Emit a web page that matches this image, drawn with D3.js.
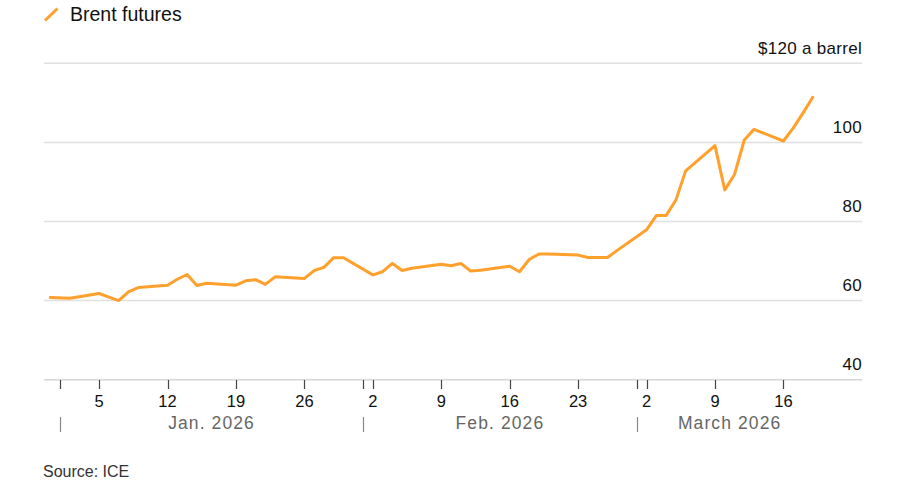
<!DOCTYPE html>
<html><head><meta charset="utf-8">
<script src="https://cdn.jsdelivr.net/npm/d3@7"></script>
<style>
html,body{margin:0;padding:0;background:#fff;}
svg{display:block;font-family:"Liberation Sans",Arial,sans-serif;}
</style></head>
<body>
<svg id="chart" width="900" height="500"></svg>
<script>
const dates = ["2025-12-31","2026-01-02","2026-01-05","2026-01-06","2026-01-07","2026-01-08","2026-01-09",
"2026-01-12","2026-01-13","2026-01-14","2026-01-15","2026-01-16","2026-01-19","2026-01-20","2026-01-21","2026-01-22","2026-01-23",
"2026-01-26","2026-01-27","2026-01-28","2026-01-29","2026-01-30",
"2026-02-02","2026-02-03","2026-02-04","2026-02-05","2026-02-06","2026-02-09","2026-02-10","2026-02-11","2026-02-12","2026-02-13",
"2026-02-16","2026-02-17","2026-02-18","2026-02-19","2026-02-20","2026-02-23","2026-02-24","2026-02-25","2026-02-26","2026-02-27",
"2026-03-02","2026-03-03","2026-03-04","2026-03-05","2026-03-06","2026-03-09","2026-03-10","2026-03-11","2026-03-12","2026-03-13",
"2026-03-16","2026-03-17","2026-03-18","2026-03-19"];
const brent = [60.8,60.6,61.8,60.9,60.0,62.2,63.3,
63.9,65.4,66.6,63.8,64.4,63.9,65.0,65.3,64.1,66.0,
65.6,67.6,68.4,70.85,70.85,
66.5,67.3,69.4,67.6,68.2,69.2,68.8,69.4,67.5,67.7,
68.7,67.3,70.4,71.8,71.8,71.5,70.9,70.9,70.9,72.7,
77.9,81.5,81.5,85.4,92.8,99.2,88.0,91.9,100.6,103.3,
100.35,103.6,107.4,111.4];
const yTicks = [40,60,80,100,120];
const dayTicks = ["2026-01-05","2026-01-12","2026-01-19","2026-01-26","2026-02-02","2026-02-09","2026-02-16","2026-02-23","2026-03-02","2026-03-09","2026-03-16"];
const monthStarts = ["2026-01-01","2026-02-01","2026-03-01"];
const monthLabels = ["Jan. 2026","Feb. 2026","March 2026"];
const monthEnds = ["2026-02-01","2026-03-01","2026-03-20"];
const seriesName = "Brent futures";
const source = "Source: ICE";

const parse = d3.utcParse("%Y-%m-%d");
const data = dates.map((d,i)=>({date:parse(d), value:brent[i]}));

const svg = d3.select("#chart");
const left = 44, right = 862, bottom = 380;
const x = d3.scaleUtc().domain([parse("2026-01-01"), parse("2026-03-16")]).range([60, 783.4]);
const y = d3.scaleLinear().domain([40,120]).range([379.7, 63.3]);

// gridlines
svg.append("g").selectAll("line").data(yTicks.filter(v=>v>40)).join("line")
  .attr("x1",left).attr("x2",right).attr("y1",d=>y(d)).attr("y2",d=>y(d))
  .attr("stroke","#e0e0e0").attr("stroke-width",1.5);
// baseline
svg.append("line").attr("x1",left).attr("x2",right).attr("y1",y(40)).attr("y2",y(40))
  .attr("stroke","#d6d6d6").attr("stroke-width",1.5);

// y labels
svg.append("g").selectAll("text").data(yTicks).join("text")
  .attr("x",right).attr("y",d=>y(d)-9.5)
  .attr("text-anchor","end").attr("font-size",17).attr("letter-spacing",0.3).attr("fill","#111")
  .text(d=>d===120 ? "$120 a barrel" : d);

// x axis ticks
const tickDates = dayTicks.map(parse).concat(monthStarts.map(parse));
svg.append("g").selectAll("line").data(tickDates).join("line")
  .attr("x1",d=>Math.round(x(d))+0.5).attr("x2",d=>Math.round(x(d))+0.5)
  .attr("y1",bottom).attr("y2",bottom+9)
  .attr("stroke","#444").attr("stroke-width",1.2);
svg.append("g").selectAll("text").data(dayTicks.map(parse)).join("text")
  .attr("x",d=>x(d)).attr("y",407)
  .attr("text-anchor","middle").attr("font-size",16.5).attr("fill","#111")
  .text(d=>d3.utcFormat("%-d")(d));

// month separators and labels
svg.append("g").selectAll("line").data(monthStarts.map(parse)).join("line")
  .attr("x1",d=>Math.round(x(d))+0.5).attr("x2",d=>Math.round(x(d))+0.5)
  .attr("y1",417).attr("y2",432)
  .attr("stroke","#888").attr("stroke-width",1.2);
svg.append("g").selectAll("text").data(monthLabels).join("text")
  .attr("x",(d,i)=>{
     const a = x(parse(monthStarts[i])), b = x(parse(monthEnds[i]));
     return (a+b)/2;})
  .attr("y",429).attr("text-anchor","middle").attr("font-size",17.5)
  .attr("letter-spacing",1.1).attr("fill","#666")
  .text(d=>d);

// line
const line = d3.line().x(d=>x(d.date)).y(d=>y(d.value));
svg.append("path").datum(data).attr("d",line)
  .attr("fill","none").attr("stroke","#ffa02c").attr("stroke-width",3)
  .attr("stroke-linejoin","round").attr("stroke-linecap","round");

// legend
svg.append("line").attr("x1",45).attr("y1",20.5).attr("x2",57.5).attr("y2",8.5)
  .attr("stroke","#ffa02c").attr("stroke-width",3);
svg.append("text").attr("x",70).attr("y",20.5).attr("font-size",19.5).attr("fill","#111")
  .text(seriesName);

// source
svg.append("text").attr("x",43).attr("y",476.5).attr("font-size",16).attr("fill","#333")
  .text(source);
</script>
</body></html>
